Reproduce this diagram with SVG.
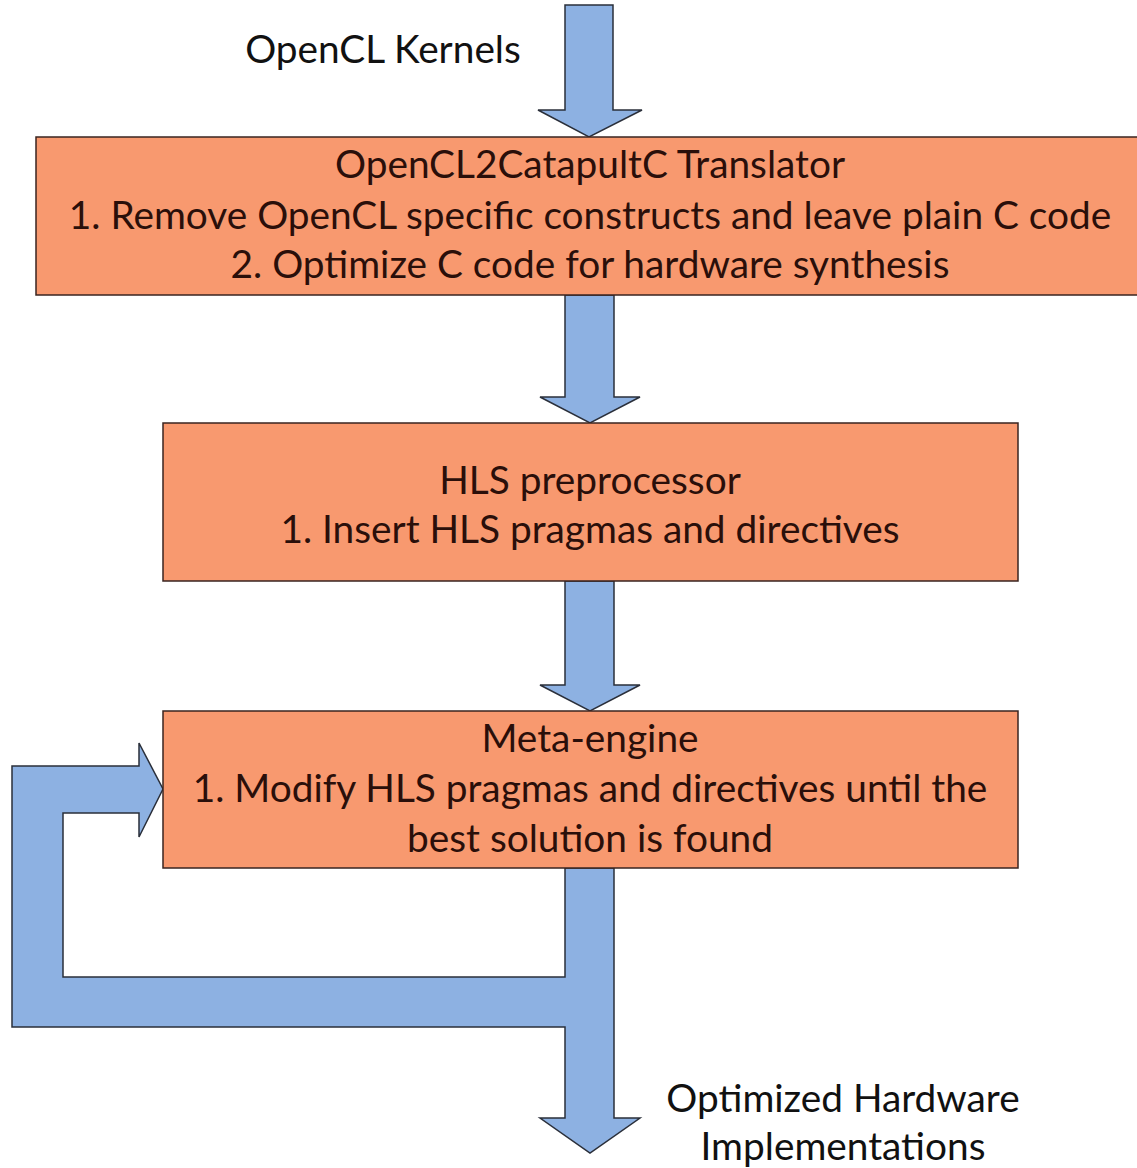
<svg xmlns="http://www.w3.org/2000/svg" width="1137" height="1168" viewBox="0 0 1137 1168">
<style>
.box{fill:#F8996F;stroke:#3a2420;stroke-width:1.5}
.arr{fill:#8DB1E2;stroke:#2a2f3a;stroke-width:1.5;stroke-linejoin:miter}
text{font-family:Lato,"Liberation Sans",sans-serif;font-size:38.8px;text-anchor:middle}
.in{fill:#2a0f0a}
.out{fill:#111}
</style>
<rect width="1137" height="1168" fill="#fff"/>
<g id="connectors">
<polygon class="arr" points="565,5 613,5 613,110 642,110 589,137 538,110 565,110"/>
<polygon class="arr" points="565,295 614,295 614,397 640,397 590,423 540,397 565,397"/>
<polygon class="arr" points="565,581 614,581 614,685 640,685 590,711 540,685 565,685"/>
<polygon class="arr" points="565,868 614,868 614,1118 640,1118 590,1153 540,1118 565,1118 565,1027 12,1027 12,766 139,766 139,743 163,789 139,837 139,813 63,813 63,977 565,977"/>
</g>
<g id="label-in"><text class="out" x="383" y="63">OpenCL Kernels</text></g>
<g id="translator">
<rect class="box" x="36" y="137" width="1110" height="158"/>
<text class="in" x="590" y="178">OpenCL2CatapultC Translator</text>
<text class="in" x="590" y="229">1. Remove OpenCL specific constructs and leave plain C code</text>
<text class="in" x="590" y="278">2. Optimize C code for hardware synthesis</text>
</g>
<g id="preprocessor">
<rect class="box" x="163" y="423" width="855" height="158"/>
<text class="in" x="590" y="494">HLS preprocessor</text>
<text class="in" x="590" y="543">1. Insert HLS pragmas and directives</text>
</g>
<g id="meta-engine">
<rect class="box" x="163" y="711" width="855" height="157"/>
<text class="in" x="590" y="752">Meta-engine</text>
<text class="in" x="590" y="802">1. Modify HLS pragmas and directives until the</text>
<text class="in" x="590" y="852">best solution is found</text>
</g>
<g id="label-out">
<text class="out" x="843" y="1112">Optimized Hardware</text>
<text class="out" x="843" y="1160">Implementations</text>
</g>
</svg>
